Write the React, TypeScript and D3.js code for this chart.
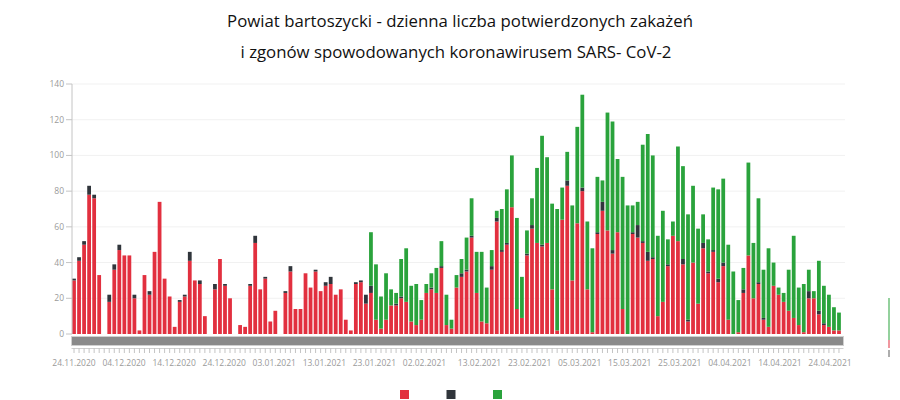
import React from "react";
import * as d3 from "d3";

const startDate = "24.11.2020";
// daily values: confirmed cases (red), deaths (dark), third series (green)
const cases = [
  30, 41, 50, 78, 76, 33, 0, 18, 36, 47, 44, 44, 20, 2, 33, 22, 46, 74, 31, 21,
  4, 18, 21, 41, 30, 28, 10, 0, 25, 42, 27, 20, 0, 5, 4, 27, 51, 25, 31, 7,
  13, 0, 23, 35, 14, 14, 34, 26, 35, 24, 27, 28, 22, 25, 8, 2, 28, 29, 17, 23,
  8, 3, 8, 16, 16, 20, 18, 7, 5, 8, 23, 25, 23, 37, 5, 3, 26, 32, 35, 54,
  23, 7, 6, 36, 63, 46, 50, 71, 14, 9, 44, 59, 51, 49, 51, 25, 2, 64, 83, 30,
  62, 80, 25, 1, 56, 69, 58, 45, 57, 14, 0, 56, 54, 51, 41, 42, 10, 18, 38, 55,
  52, 39, 7, 40, 17, 48, 34, 46, 29, 38, 8, 0, 1, 23, 44, 20, 28, 8, 4, 27,
  22, 18, 13, 9, 5, 1, 20, 20, 11, 5, 4, 2, 2,
];
const deaths = [
  1, 2, 2, 5, 2, 0, 0, 4, 3, 3, 0, 0, 2, 0, 0, 2, 0, 0, 0, 0,
  0, 1, 1, 5, 0, 2, 0, 0, 3, 0, 1, 0, 0, 0, 0, 1, 4, 0, 1, 0,
  0, 0, 1, 3, 0, 0, 0, 0, 1, 0, 2, 4, 0, 0, 0, 0, 1, 1, 5, 4,
  0, 0, 0, 0, 1, 1, 0, 0, 0, 0, 0, 1, 0, 1, 0, 0, 0, 2, 1, 1,
  0, 0, 0, 2, 2, 1, 1, 0, 0, 0, 1, 2, 0, 1, 0, 0, 0, 0, 3, 0,
  0, 2, 0, 0, 1, 5, 0, 2, 0, 0, 0, 1, 7, 1, 5, 1, 0, 0, 1, 0,
  0, 3, 1, 0, 0, 3, 1, 1, 2, 2, 0, 0, 0, 2, 0, 0, 1, 1, 0, 0,
  0, 0, 0, 0, 0, 0, 4, 0, 2, 1, 0, 0, 0,
];
const green = [
  0, 0, 0, 0, 0, 0, 0, 0, 0, 0, 0, 0, 0, 0, 0, 0, 0, 0, 0, 0,
  0, 0, 0, 0, 0, 0, 0, 0, 0, 0, 0, 0, 0, 0, 0, 0, 0, 0, 0, 0,
  0, 0, 0, 0, 0, 0, 0, 0, 0, 0, 0, 0, 0, 0, 0, 0, 0, 0, 0, 30,
  31, 18, 26, 9, 6, 21, 30, 20, 23, 11, 5, 8, 14, 14, 17, 5, 7, 8, 18, 21,
  23, 39, 20, 9, 4, 23, 30, 29, 51, 23, 13, 15, 42, 61, 48, 48, 68, 18, 16, 42,
  54, 52, 38, 47, 31, 12, 66, 72, 41, 74, 72, 15, 13, 54, 66, 57, 45, 51, 14, 8,
  53, 52, 59, 43, 42, 16, 18, 35, 50, 47, 42, 35, 18, 12, 52, 31, 47, 27, 44, 13,
  4, 5, 23, 46, 21, 27, 12, 4, 28, 21, 18, 13, 10,
];
const tickLabels = [
  "24.11.2020", "04.12.2020", "14.12.2020", "24.12.2020", "03.01.2021",
  "13.01.2021", "23.01.2021", "02.02.2021", "13.02.2021", "23.02.2021",
  "05.03.2021", "15.03.2021", "25.03.2021", "04.04.2021", "14.04.2021",
  "24.04.2021",
];
const yTicks = [0, 20, 40, 60, 80, 100, 120, 140];
const seriesKeys = ["cases", "deaths", "green"];
const colors = ["#e2303f", "#30353b", "#2aa33c"];
const titleLines = [
  "Powiat bartoszycki - dzienna liczba potwierdzonych zakażeń",
  "i zgonów spowodowanych koronawirusem SARS- CoV-2",
];

const W = 900;
const H = 400;
const parse = d3.timeParse("%d.%m.%Y");
const fmt = d3.timeFormat("%d.%m.%Y");

export default function App() {
  const start = parse(startDate) as Date;
  const days = cases.map((_, i) => d3.timeDay.offset(start, i));
  const rows = days.map((d, i) => ({
    date: fmt(d),
    cases: cases[i],
    deaths: deaths[i],
    green: green[i],
  }));
  const stack = d3.stack<any>().keys(seriesKeys);
  const layers = stack(rows);

  const x = d3
    .scaleBand<string>()
    .domain(rows.map((r) => r.date))
    .range([71.5, 841.5])
    .paddingInner(0.25)
    .paddingOuter(0.125);
  const xl = d3
    .scaleTime()
    .domain([parse(tickLabels[0]) as Date, parse(tickLabels[tickLabels.length - 1]) as Date])
    .range([74, 830]);
  const y = d3.scaleLinear().domain([0, 140]).range([334, 84]);
  const bw = x.bandwidth();
  const axisX = 72;
  const font = "'Open Sans', 'Noto Sans', sans-serif";

  return (
    <svg
      width={W}
      height={H}
      style={{ position: "absolute", left: 0, top: 0, background: "#fff" }}
      fontFamily={font}
    >
      <rect x={0} y={0} width={W} height={H} fill="#fff" />
      {titleLines.map((t, i) => (
        <text
          key={t}
          x={i === 0 ? 460 : 456}
          y={i === 0 ? 27 : 58}
          textAnchor="middle"
          fontSize={16.8}
          fill="#111"
        >
          {t}
        </text>
      ))}
      {/* grid */}
      {yTicks.slice(1).map((v) => (
        <line key={v} x1={axisX} x2={845} y1={y(v)} y2={y(v)} stroke="#f1f1f1" strokeWidth={1} />
      ))}
      {/* bars */}
      {layers.map((layer, li) => (
        <g key={layer.key} fill={colors[li]}>
          {layer.map((seg, i) =>
            seg[1] - seg[0] > 0 ? (
              <rect
                key={i}
                x={x(rows[i].date)}
                width={bw}
                y={y(seg[1])}
                height={y(seg[0]) - y(seg[1])}
              />
            ) : null
          )}
        </g>
      ))}
      {/* y axis */}
      <line x1={axisX} x2={axisX} y1={y(140)} y2={y(0)} stroke="#c4c4c4" strokeWidth={1} />
      {yTicks.map((v) => (
        <g key={v}>
          <line x1={axisX - 6} x2={axisX} y1={y(v)} y2={y(v)} stroke="#c4c4c4" />
          <text x={axisX - 8} y={y(v) + 3} textAnchor="end" fontSize={8.5} fill="#9a9a9a">
            {v}
          </text>
        </g>
      ))}
      {/* range bar */}
      <rect x={71.5} y={336.5} width={772} height={9} fill="#8a8a8a" stroke="#d0d0d0" strokeWidth={1} />
      <line x1={71.5} x2={843.5} y1={348.5} y2={348.5} stroke="#cfcfcf" />
      {rows.map((r) => (
        <line
          key={r.date}
          x1={(x(r.date) as number) + bw / 2}
          x2={(x(r.date) as number) + bw / 2}
          y1={348.5}
          y2={353}
          stroke="#b5b5b5"
          strokeWidth={0.8}
        />
      ))}
      {tickLabels.map((t) => (
        <text
          key={t}
          x={xl(parse(t) as Date)}
          y={366}
          textAnchor="middle"
          fontSize={8.5}
          fill="#9a9a9a"
        >
          {t}
        </text>
      ))}
      {/* legend */}
      {colors.map((c, i) => (
        <rect key={c} x={400 + i * 46.5} y={390} width={9} height={9} fill={c} />
      ))}
      {/* cropped fragment at right edge */}
      <rect x={888} y={298} width={2} height={42} fill="#2aa33c" opacity={0.5} />
      <rect x={888} y={340} width={2} height={8} fill="#e2303f" opacity={0.5} />
      <rect x={888} y={350} width={2} height={7} fill="#8a8a8a" opacity={0.7} />
    </svg>
  );
}
